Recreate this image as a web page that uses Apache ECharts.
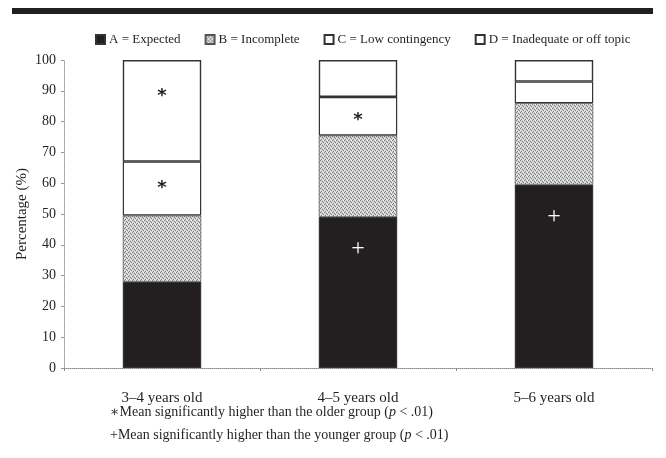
<!DOCTYPE html>
<html>
<head>
<meta charset="utf-8">
<script src="https://cdn.jsdelivr.net/npm/echarts@6/dist/echarts.min.js"></script>
<style>
  html, body { margin: 0; padding: 0; background: #fff; }
  #chart { width: 666px; height: 458px; }
</style>
</head>
<body>
<div id="chart"></div>
<script>
// Response categories by age group (percent of responses)
const categories = ['3\u20134 years old', '4\u20135 years old', '5\u20136 years old'];
const seriesNames = ['A = Expected', 'B = Incomplete', 'C = Low contingency', 'D = Inadequate or off topic'];
const expected   = [28, 49, 59.5];
const incomplete = [21.5, 26.5, 26.5];
const lowCont    = [17.5, 12.5, 7];
const inadequate = [33, 12, 7];
const yTicks = [0, 10, 20, 30, 40, 50, 60, 70, 80, 90, 100];

// Significance markers per segment ('' = none)
const marksA = ['', '+', '+'];
const marksC = ['*', '*', ''];
const marksD = ['*', '', ''];

const SERIF = '"Liberation Serif", "DejaVu Serif", serif';
const INK = '#231f20';

// Fine grey stipple used for the "Incomplete" segments
function stipple() {
  const c = document.createElement('canvas');
  c.width = 4; c.height = 4;
  const g = c.getContext('2d');
  g.fillStyle = '#d0d0d0';
  g.fillRect(0, 0, 4, 4);
  g.fillStyle = '#808080';
  [[0, 0], [2, 1], [1, 3], [3, 2]].forEach(p => g.fillRect(p[0], p[1], 1, 1));
  g.fillStyle = '#f0f0f0';
  [[2, 3], [0, 2], [3, 0]].forEach(p => g.fillRect(p[0], p[1], 1, 1));
  return c;
}

function withMarks(values, marks, offsets, color) {
  return values.map((v, i) => {
    const item = { value: v };
    if (marks[i]) {
      item.label = {
        show: true,
        formatter: marks[i],
        position: ['50%', offsets[i]],
        align: 'center',
        verticalAlign: 'middle',
        color: color,
        fontFamily: marks[i] === '*' ? '"DejaVu Sans", sans-serif' : SERIF,
        fontSize: marks[i] === '*' ? 18 : 24,
        fontWeight: marks[i] === '*' ? 'bold' : 'normal'
      };
    }
    return item;
  });
}

const barBase = {
  type: 'bar',
  stack: 'total',
  barWidth: '40%',
  itemStyle: { borderColor: '#333', borderWidth: 1.2 }
};

const chart = echarts.init(document.getElementById('chart'), null, { renderer: 'canvas' });

chart.setOption({
  animation: false,
  backgroundColor: '#fff',
  grid: { left: 64, right: 14, top: 60, bottom: 90 },
  legend: {
    left: 90,
    top: 28,
    itemWidth: 9,
    itemHeight: 9,
    itemGap: 24,
    icon: 'rect',
    textStyle: { fontFamily: SERIF, fontSize: 13, color: INK, padding: [0, 0, 0, -1] },
    data: seriesNames
  },
  xAxis: {
    type: 'category',
    data: categories,
    axisLine: { lineStyle: { color: '#888', type: [1, 1], width: 1 } },
    axisTick: { show: true, length: 3, lineStyle: { color: '#888' } },
    axisLabel: { fontFamily: SERIF, fontSize: 15, color: INK, margin: 23 }
  },
  yAxis: {
    type: 'value',
    min: 0,
    max: 100,
    interval: 10,
    name: 'Percentage (%)',
    nameLocation: 'middle',
    nameGap: 34,
    nameMoveOverlap: false,
    nameRotate: 90,
    nameTextStyle: { fontFamily: SERIF, fontSize: 15, color: INK },
    axisLine: { show: true, lineStyle: { color: '#999', type: [1, 1], width: 1 } },
    axisTick: { show: true, length: 3, lineStyle: { color: '#999' } },
    splitLine: { show: false },
    axisLabel: {
      fontFamily: SERIF, fontSize: 14, color: INK, margin: 8,
      formatter: v => (yTicks.indexOf(v) >= 0 ? String(v) : '')
    }
  },
  series: [
    Object.assign({}, barBase, {
      name: seriesNames[0],
      itemStyle: { color: INK, borderColor: '#333', borderWidth: 1.2 },
      data: withMarks(expected, marksA, [0, 32, 32], '#fff')
    }),
    Object.assign({}, barBase, {
      name: seriesNames[1],
      itemStyle: { color: { image: stipple(), repeat: 'repeat' }, borderColor: '#555', borderWidth: 0.8 },
      data: incomplete
    }),
    Object.assign({}, barBase, {
      name: seriesNames[2],
      itemStyle: { color: '#fff', borderColor: '#333', borderWidth: 1.2 },
      data: withMarks(lowCont, marksC, [27, 23, 0], INK)
    }),
    Object.assign({}, barBase, {
      name: seriesNames[3],
      itemStyle: { color: '#fff', borderColor: '#333', borderWidth: 1.4 },
      data: withMarks(inadequate, marksD, [36, 0, 0], INK)
    })
  ],
  graphic: [
    { type: 'rect', shape: { x: 12, y: 8, width: 641, height: 6 }, style: { fill: INK } },
    {
      type: 'text', left: 110, top: 405,
      style: {
        text: '{n|\u2217Mean significantly higher than the older group (}{i|p}{n| < .01)}',
        rich: {
          n: { fontFamily: SERIF, fontSize: 14, fill: INK },
          i: { fontFamily: SERIF, fontSize: 14, fontStyle: 'italic', fill: INK }
        }
      }
    },
    {
      type: 'text', left: 110, top: 428,
      style: {
        text: '{n|+Mean significantly higher than the younger group (}{i|p}{n| < .01)}',
        rich: {
          n: { fontFamily: SERIF, fontSize: 14, fill: INK },
          i: { fontFamily: SERIF, fontSize: 14, fontStyle: 'italic', fill: INK }
        }
      }
    }
  ]
});
</script>
</body>
</html>
